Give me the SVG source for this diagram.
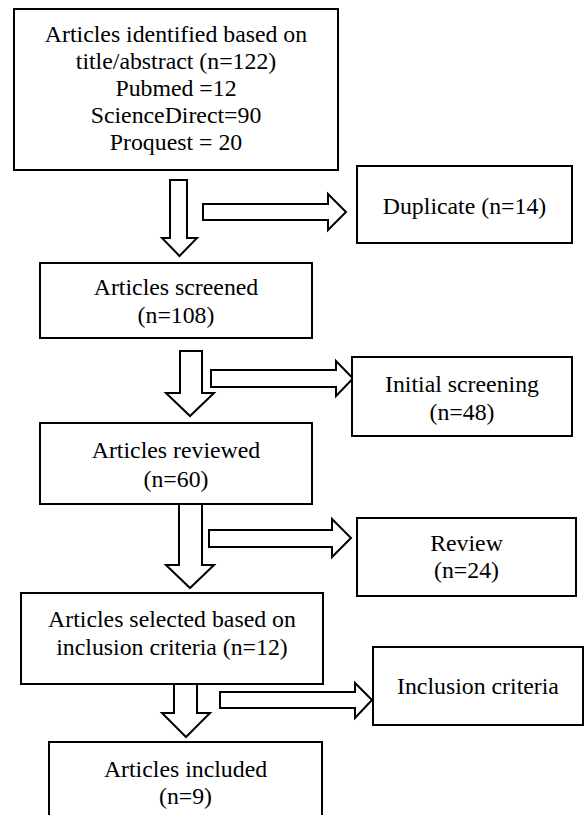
<svg xmlns="http://www.w3.org/2000/svg" width="584" height="815" viewBox="0 0 584 815">
<style>
.box{fill:#fff;stroke:#000;stroke-width:2}
.arr{fill:#fff;stroke:#000;stroke-width:2;stroke-linejoin:miter}
.t{font-family:'Liberation Serif','Times New Roman',serif;font-size:23.8px;fill:#000;text-anchor:middle}
</style>
<rect width="584" height="815" fill="#fff"/>
<g id="connectors">
<polygon class="arr" points="170,180 187,180 187,238 197,238 179.5,256 162,238 170,238"/>
<polygon class="arr" points="203,204 328,204 328,194 346,212 328,230 328,220 203,220"/>
<polygon class="arr" points="180,351 202,351 202,393 214,393 190,416 166,393 180,393"/>
<polygon class="arr" points="211,370 336,370 336,361 353,378.5 336,396 336,387 211,387"/>
<polygon class="arr" points="179,504 202,504 202,565 214,565 190,588 166,565 179,565"/>
<polygon class="arr" points="209,530 332,530 332,519 351,538 332,557 332,547 209,547"/>
<polygon class="arr" points="174,684 197,684 197,713 210,713 186,737 162,713 174,713"/>
<polygon class="arr" points="220,692 355,692 355,683 372,700 355,718 355,708 220,708"/>
</g>
<g id="identified">
<rect class="box" x="14" y="9" width="324" height="161"/>
<text class="t" x="176" y="42">Articles identified based on</text>
<text class="t" x="176" y="69">title/abstract (n=122)</text>
<text class="t" x="176" y="96">Pubmed =12</text>
<text class="t" x="176" y="123">ScienceDirect=90</text>
<text class="t" x="176" y="150">Proquest = 20</text>
</g>
<g id="duplicate">
<rect class="box" x="357" y="166" width="215" height="77"/>
<text class="t" x="464.5" y="214">Duplicate (n=14)</text>
</g>
<g id="screened">
<rect class="box" x="40" y="263" width="272" height="75"/>
<text class="t" x="176" y="295">Articles screened</text>
<text class="t" x="176" y="323">(n=108)</text>
</g>
<g id="initial">
<rect class="box" x="352" y="357" width="220" height="79"/>
<text class="t" x="462" y="392">Initial screening</text>
<text class="t" x="462" y="420">(n=48)</text>
</g>
<g id="reviewed">
<rect class="box" x="40" y="423" width="272" height="81"/>
<text class="t" x="176" y="458">Articles reviewed</text>
<text class="t" x="176" y="487">(n=60)</text>
</g>
<g id="review">
<rect class="box" x="357" y="518" width="219" height="78"/>
<text class="t" x="466.5" y="551">Review</text>
<text class="t" x="466.5" y="578">(n=24)</text>
</g>
<g id="selected">
<rect class="box" x="21" y="593" width="302" height="91"/>
<text class="t" x="172" y="627">Articles selected based on</text>
<text class="t" x="172" y="655">inclusion criteria (n=12)</text>
</g>
<g id="inclusion">
<rect class="box" x="373" y="647" width="210" height="78"/>
<text class="t" x="478" y="694">Inclusion criteria</text>
</g>
<g id="included">
<rect class="box" x="49" y="742" width="273" height="76"/>
<text class="t" x="185.5" y="777">Articles included</text>
<text class="t" x="185.5" y="804">(n=9)</text>
</g>
</svg>
